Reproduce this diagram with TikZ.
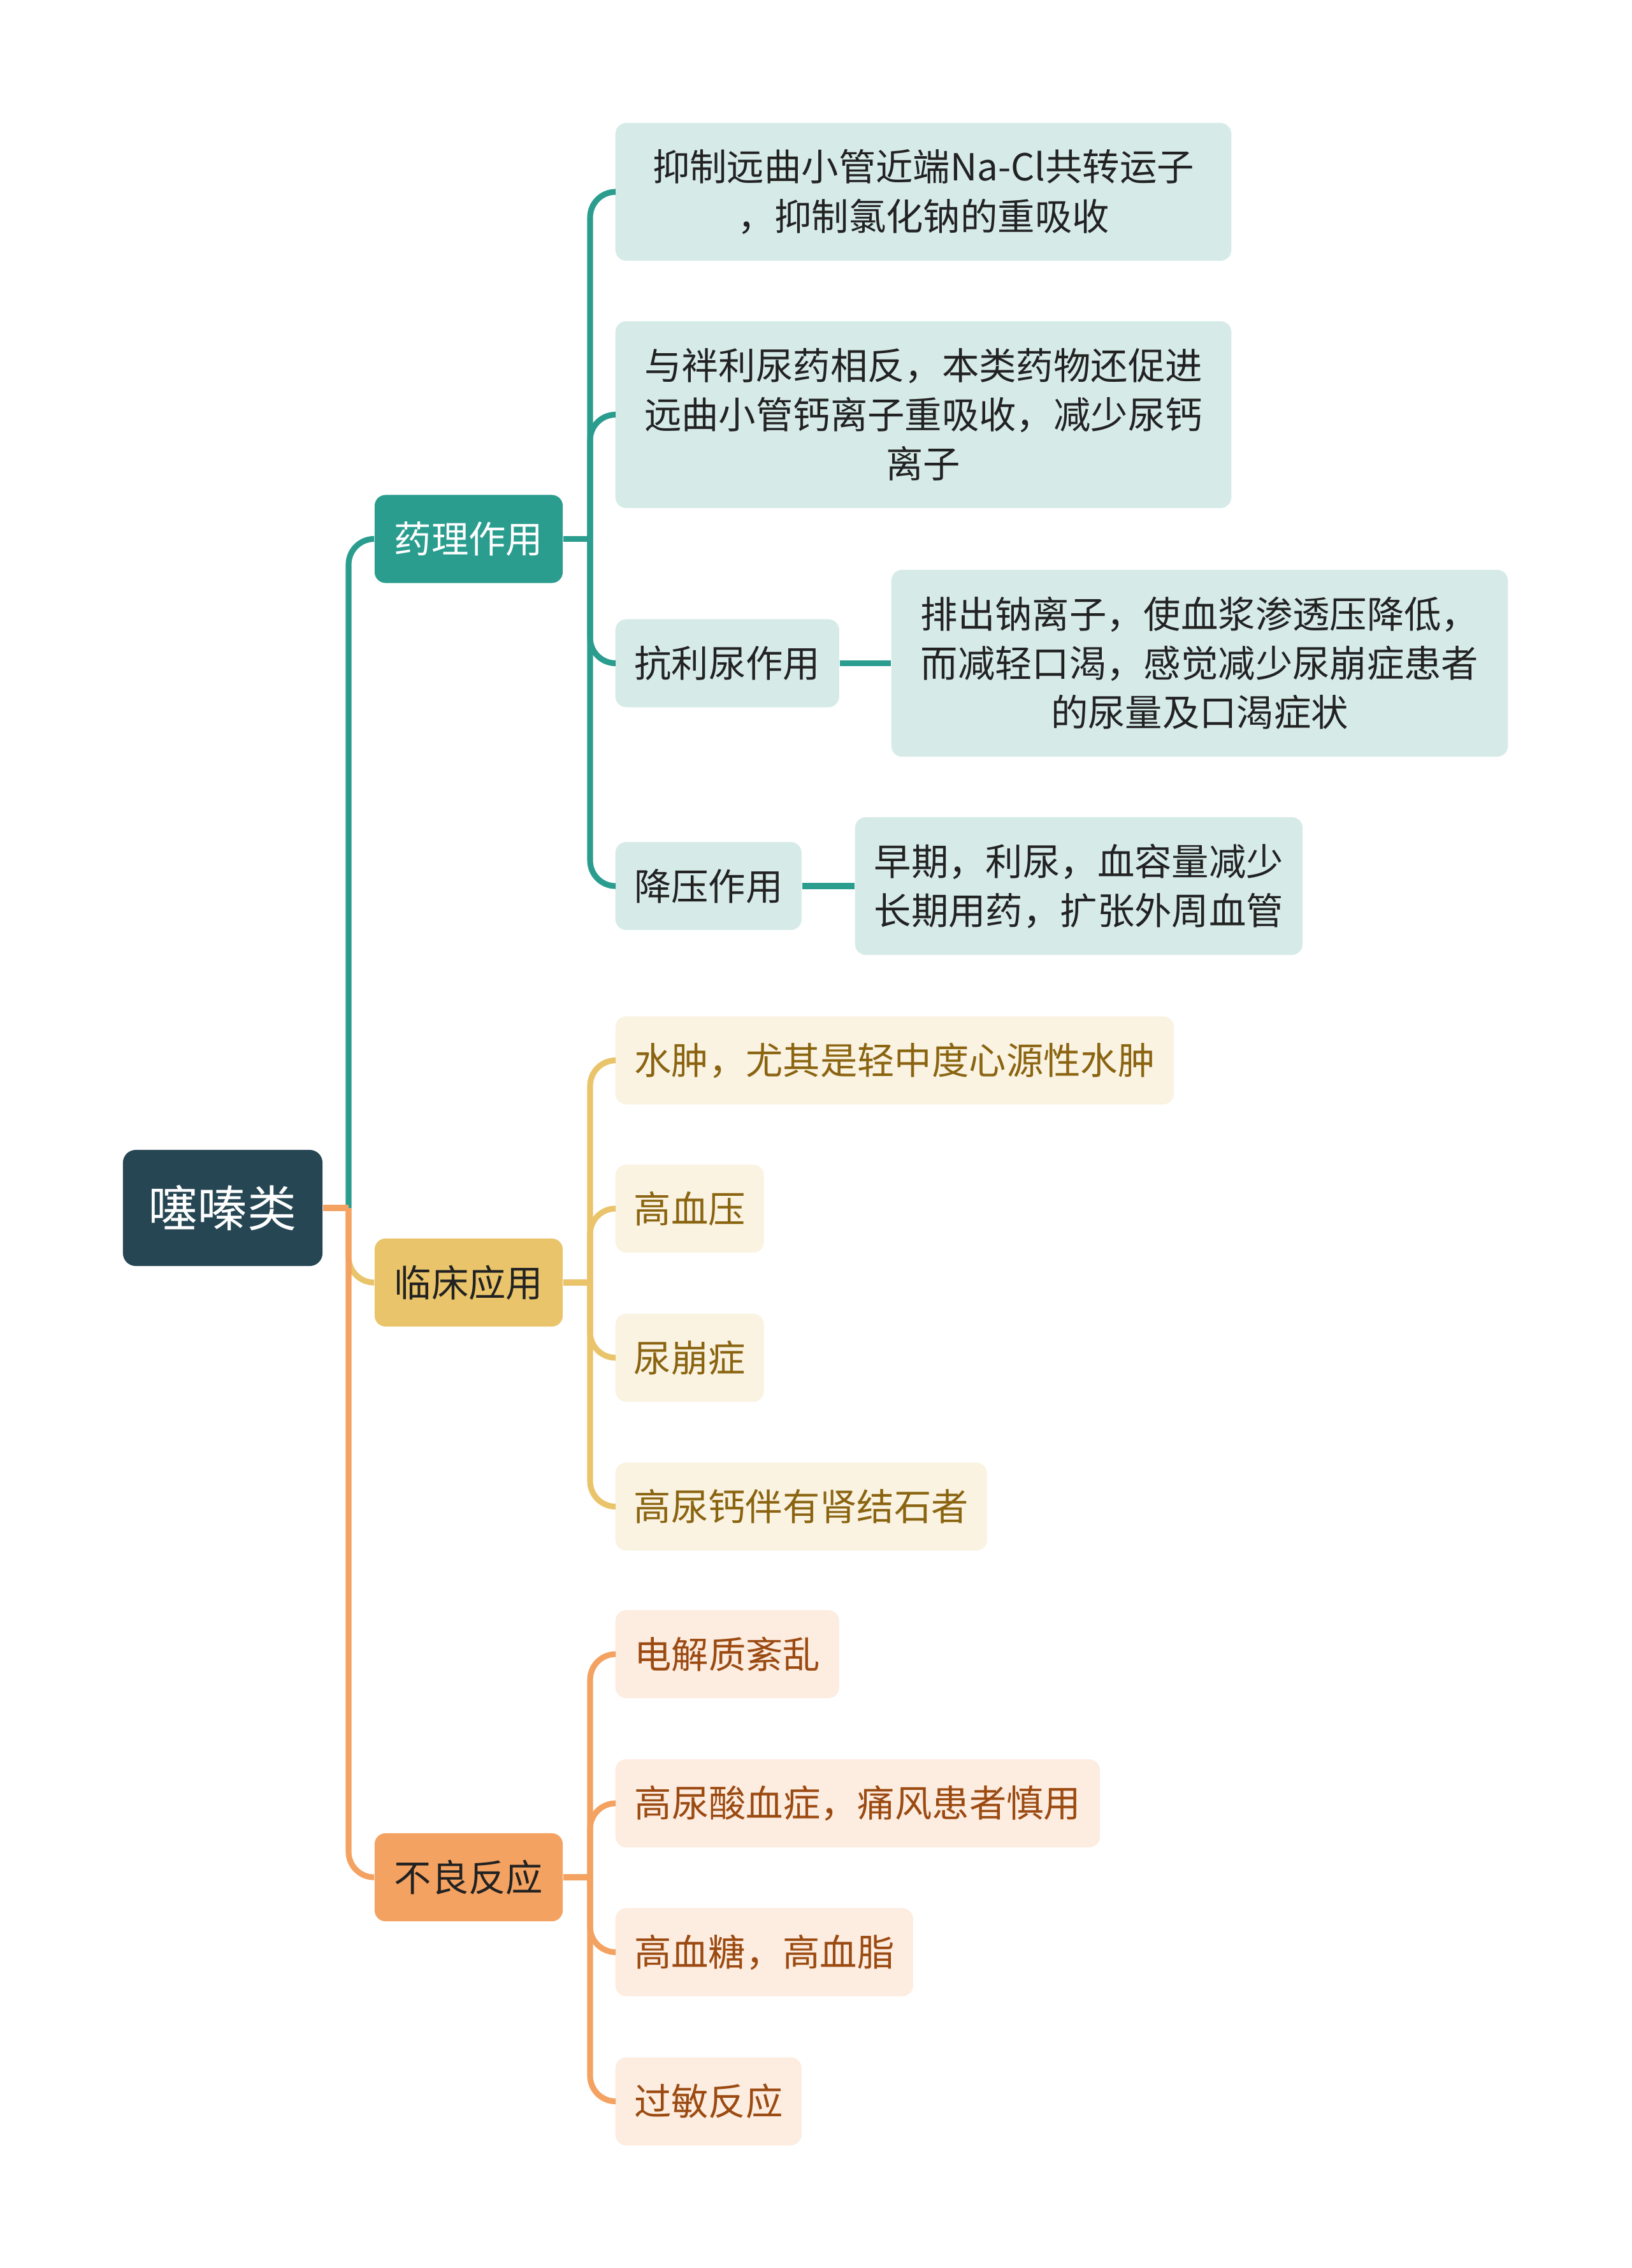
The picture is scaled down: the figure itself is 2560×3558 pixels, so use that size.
\documentclass[tikz,border=0pt]{standalone}
\usepackage{fontspec}
\setmainfont{Noto Sans CJK SC}
\definecolor{rootfill}{HTML}{264653}
\definecolor{tealc}{HTML}{2A9D8F}
\definecolor{yelc}{HTML}{E9C46A}
\definecolor{orgc}{HTML}{F4A261}
\definecolor{tealpale}{HTML}{D6EBE8}
\definecolor{yelpale}{HTML}{FAF3E2}
\definecolor{orgpale}{HTML}{FDECE0}
\definecolor{yeltext}{HTML}{8A6410}
\definecolor{orgtext}{HTML}{9B4A11}
\definecolor{darktext}{HTML}{222222}
\begin{document}
\begin{tikzpicture}[x=0.01cm,y=-0.01cm,
  box/.style={rounded corners=0.17cm,inner sep=0pt,align=center,font=\fontsize{16.6}{21.9}\selectfont},
  rootbox/.style={box,fill=rootfill,text=white,minimum width=3.13cm,minimum height=1.82cm,rounded corners=0.2cm,font=\fontsize{21.9}{26}\selectfont},
  topic/.style={box,minimum width=2.95cm,minimum height=1.38cm},
  tealleaf/.style={box,fill=tealpale,text=darktext,anchor=west,minimum height=1.38cm},
  yelleaf/.style={box,fill=yelpale,text=yeltext,anchor=west,minimum height=1.38cm},
  orgleaf/.style={box,fill=orgpale,text=orgtext,anchor=west,minimum height=1.38cm},
  link/.style={line width=2.6pt,rounded corners=0.4cm}]
\useasboundingbox (0,0) rectangle (2560,3558);
% root and main topics
\node[rootbox] (root) at (349.5,1895) {噻嗪类};
\node[topic,fill=tealc,text=white] (yaoli) at (735.5,845.5) {药理作用};
\node[topic,fill=yelc,text=darktext] (linchuang) at (735.5,2012) {临床应用};
\node[topic,fill=orgc,text=darktext] (buliang) at (735.5,2945) {不良反应};
% pharmacology
\node[tealleaf,minimum width=9.66cm,minimum height=2.16cm] (yl1) at (965,301) {抑制远曲小管近端Na-Cl共转运子\\，抑制氯化钠的重吸收};
\node[tealleaf,minimum width=9.66cm,minimum height=2.93cm] (yl2) at (965,650.5) {与袢利尿药相反，本类药物还促进\\远曲小管钙离子重吸收，减少尿钙\\离子};
\node[tealleaf,minimum width=3.51cm] (yl3) at (965,1040.5) {抗利尿作用};
\node[tealleaf,minimum width=9.67cm,minimum height=2.93cm] (yl3a) at (1398,1040.5) {排出钠离子，使血浆渗透压降低，\\而减轻口渴，感觉减少尿崩症患者\\的尿量及口渴症状};
\node[tealleaf,minimum width=2.92cm] (yl4) at (965,1390) {降压作用};
\node[tealleaf,minimum width=7.02cm,minimum height=2.16cm] (yl4a) at (1341,1390) {早期，利尿，血容量减少\\长期用药，扩张外周血管};
% clinical use
\node[yelleaf,minimum width=8.76cm] (lc1) at (965,1663.5) {水肿，尤其是轻中度心源性水肿};
\node[yelleaf,minimum width=2.33cm] (lc2) at (965,1896) {高血压};
\node[yelleaf,minimum width=2.33cm] (lc3) at (965,2130) {尿崩症};
\node[yelleaf,minimum width=5.83cm] (lc4) at (965,2363.5) {高尿钙伴有肾结石者};
% adverse reactions
\node[orgleaf,minimum width=3.51cm] (bl1) at (965,2595) {电解质紊乱};
\node[orgleaf,minimum width=7.60cm] (bl2) at (965,2829) {高尿酸血症，痛风患者慎用};
\node[orgleaf,minimum width=4.67cm] (bl3) at (965,3062.5) {高血糖，高血脂};
\node[orgleaf,minimum width=2.92cm] (bl4) at (965,3296.5) {过敏反应};
% branch points
\coordinate (trunk) at (547,1895);
\coordinate (ylfork) at (926,845.5);
\coordinate (lcfork) at (926,2012);
\coordinate (blfork) at (926,2945);
% connectors
\draw[link,tealc] (trunk) |- (yaoli.west);
\draw[link,yelc] (trunk) |- (linchuang.west);
\draw[link,orgc] (trunk) |- (buliang.west);
\draw[link,orgc] (root.east) -- (trunk);
\draw[link,tealc] (yaoli.east) -- (ylfork);
\foreach \n in {yl1,yl2,yl3,yl4} \draw[link,tealc] (ylfork) |- (\n.west);
\draw[link,tealc] (yl3.east) -- (yl3a.west);
\draw[link,tealc] (yl4.east) -- (yl4a.west);
\draw[link,yelc] (linchuang.east) -- (lcfork);
\foreach \n in {lc1,lc2,lc3,lc4} \draw[link,yelc] (lcfork) |- (\n.west);
\draw[link,orgc] (buliang.east) -- (blfork);
\foreach \n in {bl1,bl2,bl3,bl4} \draw[link,orgc] (blfork) |- (\n.west);
\end{tikzpicture}
\end{document}
